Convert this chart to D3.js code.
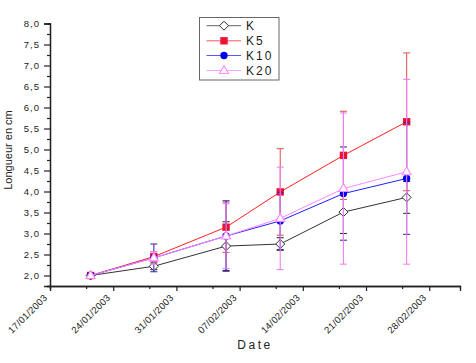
<!DOCTYPE html>
<html><head><meta charset="utf-8">
<script src="https://cdn.jsdelivr.net/npm/d3@7"></script>
<style>body{margin:0;background:#fff}svg{display:block}text{font-family:Arial,"Liberation Sans",sans-serif}</style>
</head><body>
<svg id="c" width="476" height="363"></svg>
<script>
const dates = ["2003-01-21T12:00","2003-01-28T12:00","2003-02-05T12:00","2003-02-11T12:00","2003-02-18T12:00","2003-02-25T12:00"];
const seriesNames = ["K","K5","K10","K20"];
const kVals   = [2.00, 2.22, 2.70, 2.75, 3.51, 3.86];
const kErr    = [0.00, 0.08, 0.58, 0.15, 0.51, 0.38];
const k5Vals  = [2.00, 2.45, 3.15, 3.99, 4.86, 5.66];
const k5Err   = [0.00, 0.12, 0.60, 1.03, 1.05, 1.64];
const k10Vals = [2.00, 2.42, 2.94, 3.30, 3.95, 4.31];
const k10Err  = [0.00, 0.33, 0.84, 0.68, 1.11, 1.33];
const k20Vals = [2.00, 2.42, 2.94, 3.36, 4.07, 4.47];
const k20Err  = [0.00, 0.15, 0.77, 1.22, 1.80, 2.20];
const xMajorTicks = ["2003-01-17","2003-01-24","2003-01-31","2003-02-07","2003-02-14","2003-02-21","2003-02-28"];
const xMinorTicks = ["2003-01-21","2003-01-28","2003-02-04","2003-02-11","2003-02-18","2003-02-25"];
const yMajorTicks = [2.0,2.5,3.0,3.5,4.0,4.5,5.0,5.5,6.0,6.5,7.0,7.5,8.0];
const yMinorTicks = [1.75,2.25,2.75,3.25,3.75,4.25,4.75,5.25,5.75,6.25,6.75,7.25,7.75];

const parse = s => new Date(s);
const svg = d3.select("#c");
const x = d3.scaleTime().domain([parse("2003-01-17T00:00"), parse("2003-03-03T09:50")]).range([50, 460]);
const y = d3.scaleLinear().domain([1.75, 8.0]).range([286, 23.5]);

const fmtDate = d3.timeFormat("%d/%m/%Y");
const fmtY = d => d.toFixed(1).replace(".", ",");

// axes
const gxMinor = svg.append("g").attr("transform","translate(0,286)")
  .call(d3.axisBottom(x).tickValues(xMinorTicks.map(parse)).tickSize(3).tickFormat(""));
const gx = svg.append("g").attr("transform","translate(0,286)")
  .call(d3.axisBottom(x).tickValues(xMajorTicks.map(parse)).tickSize(5).tickFormat(fmtDate));
gx.selectAll("text").attr("transform","translate(-5,10) rotate(-45)")
  .attr("text-anchor","end").attr("x",0).attr("y",0).attr("dx","0").attr("dy","0.35em")
  .style("font-size","9.5px").style("letter-spacing","0.3px").attr("fill","#222");
const gyMinor = svg.append("g").attr("transform","translate(50,0)")
  .call(d3.axisLeft(y).tickValues(yMinorTicks).tickSize(3).tickFormat(""));
const gy = svg.append("g").attr("transform","translate(50,0)")
  .call(d3.axisLeft(y).tickValues(yMajorTicks).tickSize(6).tickFormat(fmtY));
gy.selectAll("text").style("font-size","9.5px").style("letter-spacing","1px").attr("fill","#222").attr("x",-10);
[gx,gy,gxMinor,gyMinor].forEach(g=>{
  g.select(".domain").attr("stroke","#222").attr("stroke-width",1.3);
  g.selectAll(".tick line").attr("stroke","#222").attr("stroke-width",1.2);
});

svg.append("text").attr("transform","translate(12,150) rotate(-90)").attr("text-anchor","middle")
  .style("font-size","11px").attr("fill","#222").text("Longueur en cm");
svg.append("text").attr("x",255).attr("y",349).attr("text-anchor","middle")
  .style("font-size","12px").style("letter-spacing","2.5px").attr("fill","#222").text("Date");

const series = [
  {name:"K",   vals:kVals,   err:kErr,   color:"#333333", errColor:"#333333", marker:"diamond", fill:"#fff"},
  {name:"K5",  vals:k5Vals,  err:k5Err,  color:"#ff2020", errColor:"#e85a5a", marker:"square",  fill:"#ee1133"},
  {name:"K10", vals:k10Vals, err:k10Err, color:"#2020ff", errColor:"#4030b0", marker:"circle",  fill:"#0000ee"},
  {name:"K20", vals:k20Vals, err:k20Err, color:"#ff88ff", errColor:"#f080f0", marker:"triangle",fill:"#fff"}
];

function drawMarker(g, type, cx, cy, s) {
  if (type==="diamond") g.append("path").attr("d",`M${cx},${cy-4.5}L${cx+4.5},${cy}L${cx},${cy+4.5}L${cx-4.5},${cy}Z`)
      .attr("fill",s.fill).attr("stroke",s.color).attr("stroke-width",1);
  else if (type==="square") g.append("rect").attr("x",cx-3.7).attr("y",cy-3.7).attr("width",7.4).attr("height",7.4).attr("fill",s.fill);
  else if (type==="circle") g.append("circle").attr("cx",cx).attr("cy",cy).attr("r",3.7).attr("fill",s.fill);
  else if (type==="triangle") g.append("path").attr("d",`M${cx},${cy-5}L${cx+4.5},${cy+3}L${cx-4.5},${cy+3}Z`)
      .attr("fill",s.fill).attr("stroke",s.color).attr("stroke-width",1.1);
}

const line = d3.line().x(d=>x(d.x)).y(d=>y(d.y));
series.forEach(s=>{
  const pts = dates.map((d,i)=>({x:parse(d), y:s.vals[i], e:s.err[i]}));
  const g = svg.append("g");
  pts.forEach(p=>{
    if (p.e<=0) return;
    const cx = x(p.x);
    g.append("line").attr("x1",cx).attr("x2",cx).attr("y1",y(p.y+p.e)).attr("y2",y(p.y-p.e)).attr("stroke",s.errColor).attr("stroke-width",1.1);
    [p.y+p.e, p.y-p.e].forEach(v=>g.append("line").attr("x1",cx-3.5).attr("x2",cx+3.5).attr("y1",y(v)).attr("y2",y(v)).attr("stroke",s.errColor).attr("stroke-width",1.1));
  });
  g.append("path").datum(pts).attr("d",line).attr("fill","none").attr("stroke",s.color).attr("stroke-width",1);
  pts.forEach(p=>drawMarker(g, s.marker, x(p.x), y(p.y), s));
});

// legend
const lg = svg.append("g");
lg.append("rect").attr("x",199.5).attr("y",17.5).attr("width",79.5).attr("height",62.5).attr("fill","#fff").attr("stroke","#666").attr("stroke-width",1);
const legY = [25.7, 40.8, 55.5, 70.5];
const legLabels = ["K","K5","K10","K20"];
series.forEach((s,i)=>{
  const yy = legY[i];
  lg.append("line").attr("x1",206.5).attr("x2",241).attr("y1",yy).attr("y2",yy).attr("stroke",s.color).attr("stroke-width",1).attr("opacity",0.75);
  drawMarker(lg, s.marker, 224, yy, s);
  lg.append("text").attr("x",246).attr("y",yy).attr("dy","0.36em").style("font-size","12px").style("letter-spacing","2px").attr("fill","#222").text(legLabels[i]);
});
</script>
</body></html>
